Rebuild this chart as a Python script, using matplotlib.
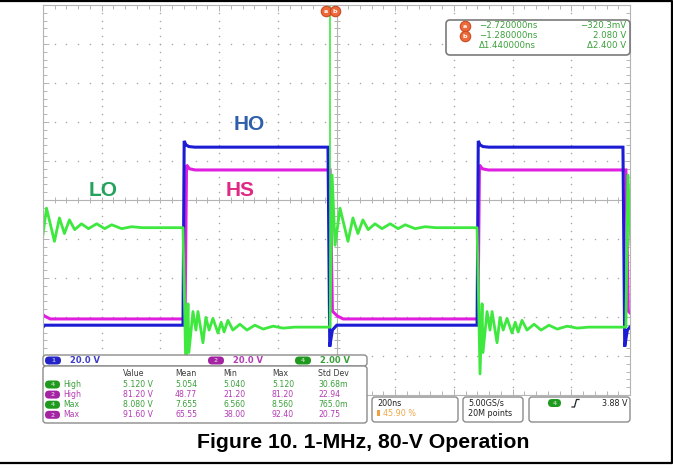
import matplotlib
matplotlib.use("Agg")
import matplotlib.pyplot as plt
import numpy as np
from matplotlib.patches import FancyBboxPatch, Rectangle

# scope settings
t_div = 200.0                      # ns/div
ho_scale, ho_pos = 20.0, -3.21     # V/div, 0 V position (div)
hs_scale, hs_pos = 20.0, -3.05
lo_scale, lo_pos = 2.0, -3.26

# switching edges (ns)
ho_rise = [-523, 479]
ho_fall = [-1024, -29, 976]
hs_rise = [-516, 482]
hs_fall = [-1020, -22, 986]
lo_rise = [-1022, -22, 986]
lo_fall = [-523, 479]

# edge shapes: time after edge (ns) and volts
ho_rise_dt = [0, 4, 10, 20, 40]
ho_rise_v = [0.0, 94.5, 92.5, 91.6, 91.3]
ho_fall_dt = [0, 6, 15, 30]
ho_fall_v = [91.3, -11.0, -2.5, 0.0]
hs_rise_dt = [0, 5, 15, 35]
hs_rise_v = [0.0, 79.0, 77.0, 76.4]
hs_fall_dt = [0, 8, 25, 45]
hs_fall_v = [76.4, 4.0, 1.5, 0.0]
lo_rise_dt = [0, 7, 17, 34, 61, 78, 95, 112, 130, 153, 177, 205, 232, 256, 290, 324, 360]
lo_rise_v = [0.0, 7.8, 4.2, 6.1, 4.4, 5.6, 4.8, 5.5, 5.0, 5.3, 5.05, 5.3, 5.05, 5.25, 5.05, 5.15, 5.1]
lo_fall_dt = [0, 10, 17, 20, 34, 44, 51, 68, 78, 89, 102, 119, 130, 140, 153, 170,
              194, 218, 245, 273, 307, 341, 380]
lo_fall_v = [5.1, -2.4, 1.2, -1.3, 0.8, -0.15, 0.8, -0.8, 0.5, -0.15, 0.45, -0.3, 0.25,
             -0.25, 0.35, -0.15, 0.15, -0.15, 0.1, -0.1, 0.05, -0.05, 0.0]

cursor_t = -22
cursor_rows = [("a", "\u22122.720000ns", "\u2212320.3mV"),
               ("b", "\u22121.280000ns", "2.080 V"),
               ("", "\u03941.440000ns", "\u03942.400 V")]

chan_bar = [("1", "20.0 V", 45, "#2323c8", "#3c3cc8"),
            ("2", "20.0 V", 208, "#a323a3", "#b43cb4"),
            ("4", "2.00 V", 295, "#1f9a1f", "#3aa03a")]

meas_header = ["Value", "Mean", "Min", "Max", "Std Dev"]
meas_rows = [("4", "High", ["5.120 V", "5.054", "5.040", "5.120", "30.68m"]),
             ("2", "High", ["81.20 V", "48.77", "21.20", "81.20", "22.94"]),
             ("4", "Max", ["8.080 V", "7.655", "6.560", "8.560", "765.0m"]),
             ("2", "Max", ["91.60 V", "65.55", "38.00", "92.40", "20.75"])]

GREEN_T = "#3aa03a"
MAG_T = "#b43cb4"
FONT = "DejaVu Sans"


def trace(rises, falls, rise_shape, fall_shape, scale, pos):
    edges = sorted([(t, rise_shape) for t in rises] + [(t, fall_shape) for t in falls])
    t, v = [], []
    for i, (t0, (dts, vs)) in enumerate(edges):
        t_next = edges[i + 1][0] if i + 1 < len(edges) else 1100
        for dt, vv in zip(dts, vs):
            if t0 + dt >= t_next:
                break
            t.append(t0 + dt)
            v.append(vv)
        t.append(t_next)
        v.append(vs[-1])
    return np.array(t), np.array(v) / scale + pos


fig = plt.figure(figsize=(6.73, 4.75), dpi=100)
ax = fig.add_axes([43 / 673, 80 / 475, 587 / 673, 390 / 475])
ax.set_xlim(-5 * t_div, 5 * t_div)
ax.set_ylim(-5, 5)

# graticule
gcol = "#b4b4b4"
for s in ax.spines.values():
    s.set_color(gcol)
    s.set_linewidth(0.8)
ax.set_xticks(np.arange(-5, 6) * t_div)
ax.set_yticks(np.arange(-5, 6))
ax.set_xticks(np.arange(-25, 26) * t_div / 5, minor=True)
ax.set_yticks(np.arange(-25, 26) / 5, minor=True)
ax.tick_params(which="both", direction="in", top=True, right=True, color=gcol,
               labelbottom=False, labelleft=False, width=0.7)
ax.tick_params(which="major", length=4)
ax.tick_params(which="minor", length=3)

minor_t = np.arange(-25, 26) * t_div / 5
minor_y = np.arange(-25, 26) / 5
for k in range(-4, 5):
    if k != 0:
        ax.plot(minor_t, np.full_like(minor_t, k), ls="none", marker="o", ms=1.1,
                color="#a8a8a8", mew=0)
        ax.plot(np.full_like(minor_y, k * t_div), minor_y, ls="none", marker="o", ms=1.1,
                color="#a8a8a8", mew=0)
ax.axhline(0, color=gcol, lw=0.8)
ax.axvline(0, color=gcol, lw=0.8)
ax.plot(minor_t, np.zeros_like(minor_t), ls="none", marker="|", ms=5, mew=0.7, color=gcol)
ax.plot(np.zeros_like(minor_y), minor_y, ls="none", marker="_", ms=5, mew=0.7, color=gcol)

# waveforms
t, y = trace(hs_rise, hs_fall, (hs_rise_dt, hs_rise_v), (hs_fall_dt, hs_fall_v), hs_scale, hs_pos)
ax.plot(t, y, color="#e01ee0", lw=2.2, solid_joinstyle="miter")
t, y = trace(ho_rise, ho_fall, (ho_rise_dt, ho_rise_v), (ho_fall_dt, ho_fall_v), ho_scale, ho_pos)
ax.plot(t, y, color="#1c1cd4", lw=2.2, solid_joinstyle="miter")
t, y = trace(lo_rise, lo_fall, (lo_rise_dt, lo_rise_v), (lo_fall_dt, lo_fall_v), lo_scale, lo_pos)
ax.plot(t, y, color="#3ee83e", lw=2.0)
ax.plot([cursor_t, cursor_t], [lo_pos, 5], color="#3ee83e", lw=1.2)

# overlay in pixel coordinates
ov = fig.add_axes([0, 0, 1, 1], zorder=5)
ov.set_xlim(0, 673)
ov.set_ylim(475, 0)
ov.axis("off")


def box(x0, y0, x1, y1, r=3, ec="#8c8c8c", lw=1.0):
    ov.add_patch(FancyBboxPatch((x0, y0), x1 - x0, y1 - y0,
                                boxstyle="round,pad=0,rounding_size=%g" % r,
                                fc="white", ec=ec, lw=lw))


def pill(x0, yc, w, fc, label):
    ov.add_patch(FancyBboxPatch((x0, yc - 4), w, 8, boxstyle="round,pad=0,rounding_size=4",
                                fc=fc, ec="none"))
    ov.text(x0 + w / 2, yc + 0.3, label, ha="center", va="center", fontsize=4.2,
            color="white", alpha=0.6, family=FONT, fontweight="bold")


def badge(x, y, letter):
    ov.plot(x, y, marker="o", ms=7.5, mfc="#ee6a3a", mec="#c84a22", mew=0.8)
    ov.text(x, y + 0.3, letter, ha="center", va="center", fontsize=4.6, color="white",
            family=FONT, fontweight="bold")


# labels on the traces
ov.text(249, 125, "HO", color="#2f5fab", fontsize=15, fontweight="bold",
        family="Liberation Sans", ha="center", va="center")
ov.text(240, 190, "HS", color="#de2a84", fontsize=15, fontweight="bold",
        family="Liberation Sans", ha="center", va="center")
ov.text(103, 190, "LO", color="#23a35b", fontsize=15, fontweight="bold",
        family="Liberation Sans", ha="center", va="center")

# cursor markers and readout
badge(326, 11, "a")
badge(335, 11, "b")
box(446, 20, 630, 55, r=4, ec="#7a7a7a", lw=1.2)
for i, (lab, tx, vx) in enumerate(cursor_rows):
    yy = 26 + i * 10
    if lab:
        badge(465, yy, lab)
    ov.text(479, yy, tx, color=GREEN_T, fontsize=6.2, family=FONT, va="center")
    ov.text(626, yy, vx, color=GREEN_T, fontsize=6.2, family=FONT, va="center", ha="right")

# channel bar
box(43, 355, 367, 366, r=3)
for num, txt, x0, fc, tc in chan_bar:
    pill(x0, 360.5, 16, fc, num)
    ov.text(x0 + 25, 360.8, txt, color=tc, fontsize=6.0, family=FONT, va="center",
            fontweight="bold")

# measurement table
box(43, 366, 367, 423, r=3)
col_x = [123, 175, 223, 272, 318]
for x, h in zip(col_x, meas_header):
    ov.text(x, 374, h, color="#3a3a3a", fontsize=5.6, family=FONT, va="center")
for i, (num, name, vals) in enumerate(meas_rows):
    yy = 384.5 + i * 10.1
    tc = GREEN_T if num == "4" else MAG_T
    fc = "#1f9a1f" if num == "4" else "#a323a3"
    pill(45, yy, 15, fc, num)
    ov.text(63, yy, name, color=tc, fontsize=5.6, family=FONT, va="center")
    for x, v in zip(col_x, vals):
        ov.text(x, yy, v, color=tc, fontsize=5.6, family=FONT, va="center")

# acquisition boxes
box(372, 397, 458, 422, r=3)
ov.text(377, 403, "200ns", color="#222222", fontsize=5.8, family=FONT, va="center")
ov.add_patch(Rectangle((377, 410), 3, 6, fc="#f0a040", ec="none"))
ov.text(383, 413, "45.90 %", color="#f0a848", fontsize=5.8, family=FONT, va="center")
box(463, 397, 523, 422, r=3)
ov.text(468, 403, "5.00GS/s", color="#222222", fontsize=5.8, family=FONT, va="center")
ov.text(468, 413, "20M points", color="#222222", fontsize=5.8, family=FONT, va="center")
box(529, 397, 630, 422, r=3)
pill(548, 403, 13, "#1f9a1f", "4")
ov.plot([572, 574.5, 576.5, 579], [407, 407, 399.5, 399.5], color="#222222", lw=0.9)
ov.text(627, 403, "3.88 V", color="#222222", fontsize=5.8, family=FONT, va="center", ha="right")

# caption and page frame
ov.text(363, 448, "Figure 10. 1-MHz, 80-V Operation", ha="center", va="baseline",
        fontsize=15.3, fontweight="bold", family="Liberation Sans")
ov.plot([0, 672, 672, 0], [1, 1, 463, 463], color="black", lw=1.6, clip_on=False)

fig.savefig("out.png", dpi=100)
